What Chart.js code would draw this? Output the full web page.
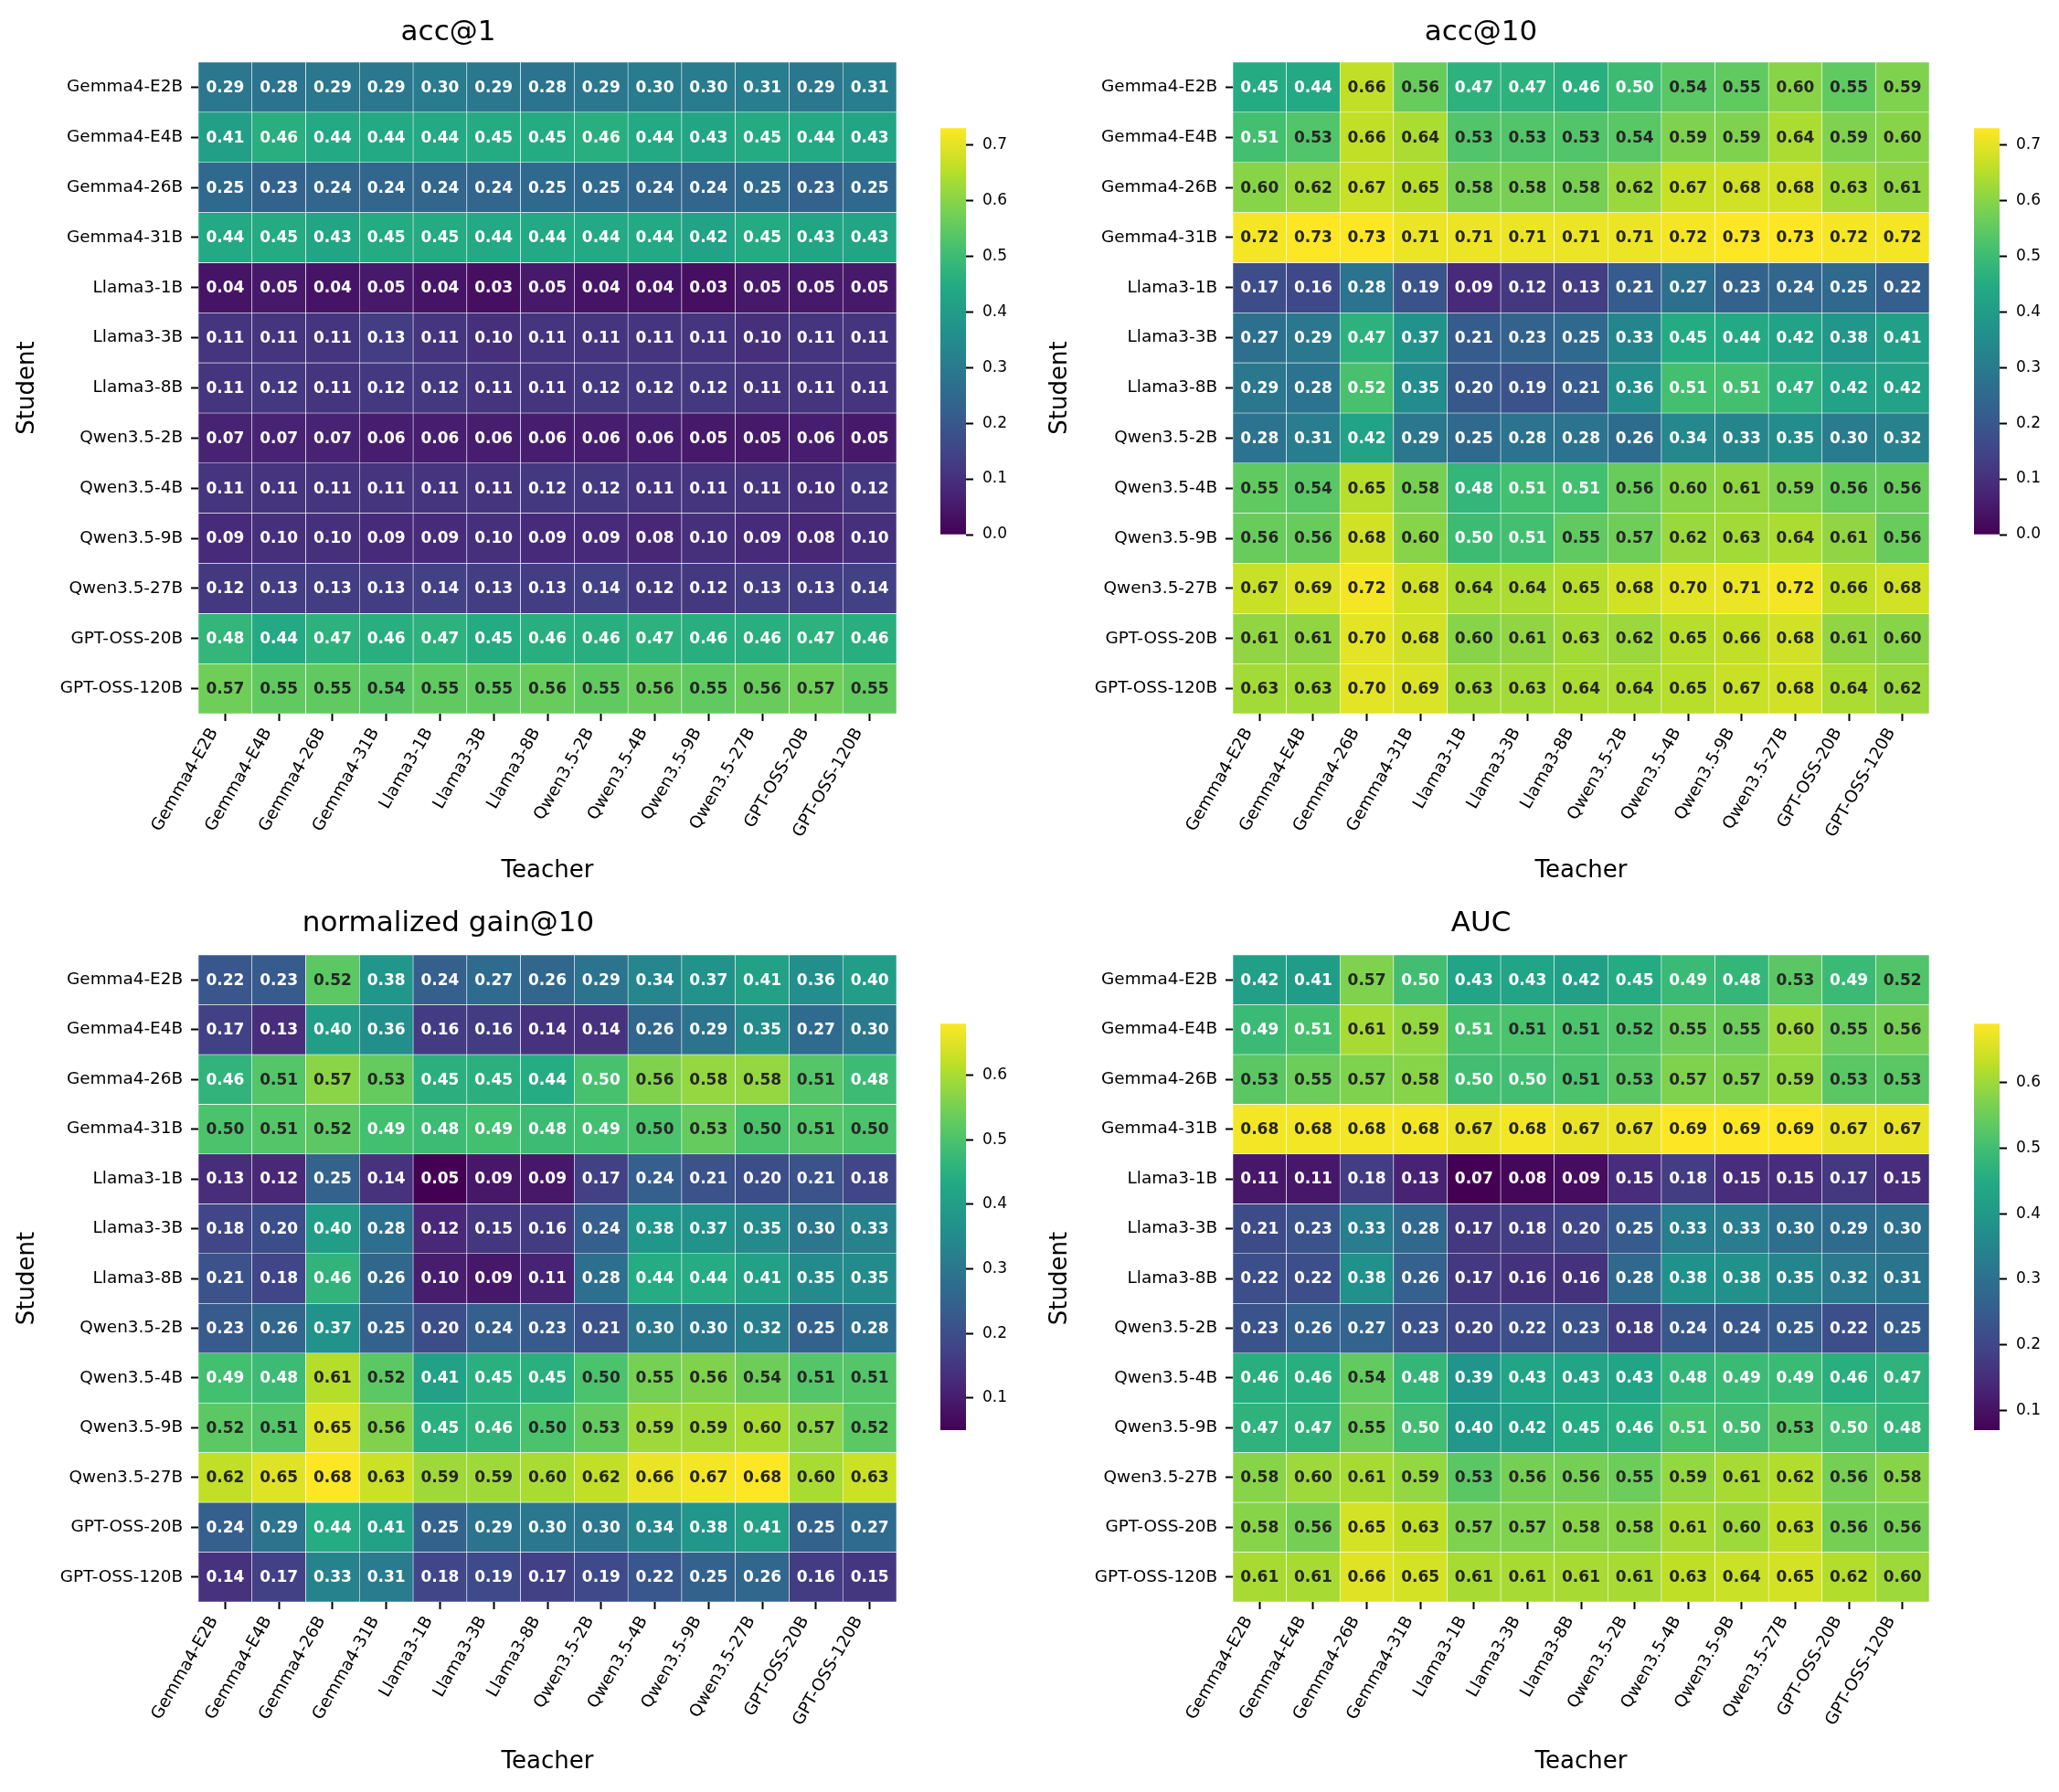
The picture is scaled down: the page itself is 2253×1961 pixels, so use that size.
<!DOCTYPE html>
<html>
<head>
<meta charset="utf-8">
<script src="https://cdn.jsdelivr.net/npm/chart.js@4.4.1/dist/chart.umd.min.js"></script>
<style>
  body { margin: 0; background: #fff; width: 2253px; height: 1961px; position: relative; overflow: hidden; }
  canvas { position: absolute; }
</style>
</head>
<body>
<canvas id="accAt1"></canvas>
<canvas id="accAt10"></canvas>
<canvas id="gainAt10"></canvas>
<canvas id="aucMap"></canvas>
<canvas id="cbar1"></canvas>
<canvas id="cbar2"></canvas>
<canvas id="cbar3"></canvas>
<canvas id="cbar4"></canvas>
<script>
// student (rows) and teacher (columns) models
const students = ['Gemma4-E2B', 'Gemma4-E4B', 'Gemma4-26B', 'Gemma4-31B', 'Llama3-1B', 'Llama3-3B', 'Llama3-8B',
  'Qwen3.5-2B', 'Qwen3.5-4B', 'Qwen3.5-9B', 'Qwen3.5-27B', 'GPT-OSS-20B', 'GPT-OSS-120B'];
const teachers = ['Gemma4-E2B', 'Gemma4-E4B', 'Gemma4-26B', 'Gemma4-31B', 'Llama3-1B', 'Llama3-3B', 'Llama3-8B',
  'Qwen3.5-2B', 'Qwen3.5-4B', 'Qwen3.5-9B', 'Qwen3.5-27B', 'GPT-OSS-20B', 'GPT-OSS-120B'];

const acc1 = [
  [0.29, 0.28, 0.29, 0.29, 0.30, 0.29, 0.28, 0.29, 0.30, 0.30, 0.31, 0.29, 0.31],
  [0.41, 0.46, 0.44, 0.44, 0.44, 0.45, 0.45, 0.46, 0.44, 0.43, 0.45, 0.44, 0.43],
  [0.25, 0.23, 0.24, 0.24, 0.24, 0.24, 0.25, 0.25, 0.24, 0.24, 0.25, 0.23, 0.25],
  [0.44, 0.45, 0.43, 0.45, 0.45, 0.44, 0.44, 0.44, 0.44, 0.42, 0.45, 0.43, 0.43],
  [0.04, 0.05, 0.04, 0.05, 0.04, 0.03, 0.05, 0.04, 0.04, 0.03, 0.05, 0.05, 0.05],
  [0.11, 0.11, 0.11, 0.13, 0.11, 0.10, 0.11, 0.11, 0.11, 0.11, 0.10, 0.11, 0.11],
  [0.11, 0.12, 0.11, 0.12, 0.12, 0.11, 0.11, 0.12, 0.12, 0.12, 0.11, 0.11, 0.11],
  [0.07, 0.07, 0.07, 0.06, 0.06, 0.06, 0.06, 0.06, 0.06, 0.05, 0.05, 0.06, 0.05],
  [0.11, 0.11, 0.11, 0.11, 0.11, 0.11, 0.12, 0.12, 0.11, 0.11, 0.11, 0.10, 0.12],
  [0.09, 0.10, 0.10, 0.09, 0.09, 0.10, 0.09, 0.09, 0.08, 0.10, 0.09, 0.08, 0.10],
  [0.12, 0.13, 0.13, 0.13, 0.14, 0.13, 0.13, 0.14, 0.12, 0.12, 0.13, 0.13, 0.14],
  [0.48, 0.44, 0.47, 0.46, 0.47, 0.45, 0.46, 0.46, 0.47, 0.46, 0.46, 0.47, 0.46],
  [0.57, 0.55, 0.55, 0.54, 0.55, 0.55, 0.56, 0.55, 0.56, 0.55, 0.56, 0.57, 0.55]
];

const acc10 = [
  [0.45, 0.44, 0.66, 0.56, 0.47, 0.47, 0.46, 0.50, 0.54, 0.55, 0.60, 0.55, 0.59],
  [0.51, 0.53, 0.66, 0.64, 0.53, 0.53, 0.53, 0.54, 0.59, 0.59, 0.64, 0.59, 0.60],
  [0.60, 0.62, 0.67, 0.65, 0.58, 0.58, 0.58, 0.62, 0.67, 0.68, 0.68, 0.63, 0.61],
  [0.72, 0.73, 0.73, 0.71, 0.71, 0.71, 0.71, 0.71, 0.72, 0.73, 0.73, 0.72, 0.72],
  [0.17, 0.16, 0.28, 0.19, 0.09, 0.12, 0.13, 0.21, 0.27, 0.23, 0.24, 0.25, 0.22],
  [0.27, 0.29, 0.47, 0.37, 0.21, 0.23, 0.25, 0.33, 0.45, 0.44, 0.42, 0.38, 0.41],
  [0.29, 0.28, 0.516, 0.35, 0.20, 0.19, 0.21, 0.36, 0.51, 0.51, 0.47, 0.42, 0.42],
  [0.28, 0.31, 0.42, 0.29, 0.25, 0.28, 0.28, 0.26, 0.34, 0.33, 0.35, 0.30, 0.32],
  [0.55, 0.54, 0.65, 0.58, 0.48, 0.51, 0.51, 0.56, 0.60, 0.61, 0.59, 0.56, 0.56],
  [0.56, 0.56, 0.68, 0.60, 0.50, 0.51, 0.55, 0.57, 0.62, 0.63, 0.64, 0.61, 0.56],
  [0.67, 0.69, 0.72, 0.68, 0.64, 0.64, 0.65, 0.68, 0.70, 0.71, 0.72, 0.66, 0.68],
  [0.61, 0.61, 0.70, 0.68, 0.60, 0.61, 0.63, 0.62, 0.65, 0.66, 0.68, 0.61, 0.60],
  [0.63, 0.63, 0.70, 0.69, 0.63, 0.63, 0.64, 0.64, 0.65, 0.67, 0.68, 0.64, 0.62]
];

const gain10 = [
  [0.22, 0.23, 0.52, 0.38, 0.24, 0.27, 0.26, 0.29, 0.34, 0.37, 0.41, 0.36, 0.40],
  [0.17, 0.13, 0.40, 0.36, 0.16, 0.16, 0.14, 0.14, 0.26, 0.29, 0.35, 0.27, 0.30],
  [0.46, 0.51, 0.57, 0.53, 0.45, 0.45, 0.44, 0.496, 0.56, 0.58, 0.58, 0.51, 0.48],
  [0.50, 0.51, 0.52, 0.49, 0.48, 0.49, 0.48, 0.49, 0.50, 0.53, 0.50, 0.51, 0.50],
  [0.13, 0.12, 0.25, 0.14, 0.05, 0.09, 0.09, 0.17, 0.24, 0.21, 0.20, 0.21, 0.18],
  [0.18, 0.20, 0.40, 0.28, 0.12, 0.15, 0.16, 0.24, 0.38, 0.37, 0.35, 0.30, 0.33],
  [0.21, 0.18, 0.46, 0.26, 0.10, 0.09, 0.11, 0.28, 0.44, 0.44, 0.41, 0.35, 0.35],
  [0.23, 0.26, 0.37, 0.25, 0.20, 0.24, 0.23, 0.21, 0.30, 0.30, 0.32, 0.25, 0.28],
  [0.49, 0.48, 0.61, 0.52, 0.41, 0.45, 0.45, 0.50, 0.55, 0.56, 0.54, 0.51, 0.51],
  [0.52, 0.51, 0.65, 0.56, 0.45, 0.46, 0.50, 0.53, 0.59, 0.59, 0.60, 0.57, 0.52],
  [0.62, 0.65, 0.68, 0.63, 0.59, 0.59, 0.60, 0.62, 0.66, 0.67, 0.68, 0.60, 0.63],
  [0.24, 0.29, 0.44, 0.41, 0.25, 0.29, 0.30, 0.30, 0.34, 0.38, 0.41, 0.25, 0.27],
  [0.14, 0.17, 0.33, 0.31, 0.18, 0.19, 0.17, 0.19, 0.22, 0.25, 0.26, 0.16, 0.15]
];

const auc = [
  [0.42, 0.41, 0.57, 0.50, 0.43, 0.43, 0.42, 0.45, 0.49, 0.48, 0.53, 0.49, 0.52],
  [0.49, 0.508, 0.61, 0.59, 0.508, 0.512, 0.512, 0.52, 0.55, 0.55, 0.60, 0.55, 0.56],
  [0.53, 0.55, 0.57, 0.58, 0.50, 0.50, 0.512, 0.53, 0.57, 0.57, 0.59, 0.53, 0.53],
  [0.68, 0.68, 0.68, 0.68, 0.67, 0.68, 0.67, 0.67, 0.69, 0.69, 0.69, 0.67, 0.67],
  [0.11, 0.11, 0.18, 0.13, 0.07, 0.08, 0.09, 0.15, 0.18, 0.15, 0.15, 0.17, 0.15],
  [0.21, 0.23, 0.33, 0.28, 0.17, 0.18, 0.20, 0.25, 0.33, 0.33, 0.30, 0.29, 0.30],
  [0.22, 0.22, 0.38, 0.26, 0.17, 0.16, 0.16, 0.28, 0.38, 0.38, 0.35, 0.32, 0.31],
  [0.23, 0.26, 0.27, 0.23, 0.20, 0.22, 0.23, 0.18, 0.24, 0.24, 0.25, 0.22, 0.25],
  [0.46, 0.46, 0.54, 0.48, 0.39, 0.43, 0.43, 0.43, 0.48, 0.49, 0.49, 0.46, 0.47],
  [0.47, 0.47, 0.55, 0.50, 0.40, 0.42, 0.45, 0.46, 0.508, 0.50, 0.53, 0.50, 0.48],
  [0.58, 0.60, 0.61, 0.59, 0.53, 0.56, 0.56, 0.55, 0.59, 0.61, 0.62, 0.56, 0.58],
  [0.58, 0.56, 0.65, 0.63, 0.57, 0.57, 0.58, 0.58, 0.61, 0.60, 0.63, 0.56, 0.56],
  [0.61, 0.61, 0.66, 0.65, 0.61, 0.61, 0.61, 0.61, 0.63, 0.64, 0.65, 0.62, 0.60]
];

// colour scale limits and colorbar ticks
const accRange = [0, 0.73];
const gainRange = [0.05, 0.68];
const aucRange = [0.07, 0.69];
const accTicks = [0, 0.1, 0.2, 0.3, 0.4, 0.5, 0.6, 0.7];
const gainTicks = [0.1, 0.2, 0.3, 0.4, 0.5, 0.6];
const aucTicks = [0.1, 0.2, 0.3, 0.4, 0.5, 0.6];

Chart.defaults.font.family = "'DejaVu Sans', sans-serif";
Chart.defaults.color = '#000';
Chart.defaults.animation = false;

// viridis colormap
const viridisStops = [
  [0, '#440154'], [0.1, '#482475'], [0.125, '#472c7a'], [0.2, '#414487'], [0.25, '#3b518b'],
  [0.3, '#355f8d'], [0.375, '#2c718e'], [0.4, '#2a788e'], [0.5, '#21918c'], [0.6, '#22a884'],
  [0.625, '#27ad81'], [0.7, '#44bf70'], [0.75, '#5ec962'], [0.8, '#7ad151'], [0.875, '#aadc32'],
  [0.9, '#bddf26'], [1, '#fde725']
];
function hexRgb(h) {
  return [parseInt(h.slice(1, 3), 16), parseInt(h.slice(3, 5), 16), parseInt(h.slice(5, 7), 16)];
}
function viridis(t) {
  t = Math.min(1, Math.max(0, t));
  for (let i = 1; i < viridisStops.length; i++) {
    const [t1, c1] = viridisStops[i];
    if (t <= t1) {
      const [t0, c0] = viridisStops[i - 1];
      const f = (t - t0) / (t1 - t0);
      const a = hexRgb(c0), b = hexRgb(c1);
      return a.map((v, k) => Math.round(v + (b[k] - v) * f));
    }
  }
  return hexRgb('#fde725');
}
function luminance(rgb) {
  const lin = rgb.map(v => {
    v /= 255;
    return v <= 0.03928 ? v / 12.92 : Math.pow((v + 0.055) / 1.055, 2.4);
  });
  return 0.2126 * lin[0] + 0.7152 * lin[1] + 0.0722 * lin[2];
}

// writes the value into each cell
function cellText(values, range) {
  return {
    id: 'cellText',
    afterDatasetsDraw(chart) {
      const ctx = chart.ctx;
      ctx.save();
      ctx.font = "bold 17px 'DejaVu Sans'";
      ctx.textAlign = 'center';
      ctx.textBaseline = 'middle';
      students.forEach((s, r) => {
        chart.getDatasetMeta(r).data.forEach((bar, c) => {
          const v = values[r][c];
          const rgb = viridis((v - range[0]) / (range[1] - range[0]));
          ctx.fillStyle = luminance(rgb) > 0.408 ? '#262626' : '#ffffff';
          const p = bar.getProps(['x', 'y', 'base'], true);
          ctx.fillText(v.toFixed(2), p.x, (p.y + p.base) / 2 + 1);
        });
      });
      ctx.restore();
    }
  };
}

function place(canvas, x, y, w, h) {
  canvas.width = w;
  canvas.height = h;
  canvas.style.left = x + 'px';
  canvas.style.top = y + 'px';
}

function heatmap(id, title, values, range, box) {
  const canvas = document.getElementById(id);
  place(canvas, box.x, box.y, box.w, box.h);
  const datasets = students.map((s, r) => ({
    label: s,
    data: teachers.map(() => 1),
    backgroundColor: values[r].map(v => 'rgb(' + viridis((v - range[0]) / (range[1] - range[0])).join(',') + ')'),
    borderColor: '#ffffff',
    borderWidth: 0.6,
    borderSkipped: false,
    barPercentage: 1,
    categoryPercentage: 1
  }));
  new Chart(canvas, {
    type: 'bar',
    data: { labels: teachers, datasets },
    options: {
      responsive: false,
      layout: { padding: { left: 0, right: box.right, top: 0, bottom: 0 } },
      plugins: {
        legend: { display: false },
        tooltip: { enabled: false },
        title: {
          display: true, text: title, color: '#000',
          font: { size: 31, weight: 'normal' },
          padding: { top: box.titleTop, bottom: box.titleBottom }
        }
      },
      scales: {
        x: {
          stacked: true,
          grid: { offset: false, drawOnChartArea: false, color: '#000', tickLength: 8, tickWidth: 2 },
          border: { display: false },
          ticks: { autoSkip: false, minRotation: 60, maxRotation: 60, padding: 4, labelOffset: -12,
                   font: { size: 18.4 } },
          title: { display: true, text: 'Teacher', font: { size: 26 }, padding: { top: 0, bottom: box.teacherPad } },
          afterFit: s => { s.height = box.xh; }
        },
        y: {
          stacked: true, min: 0, max: students.length, reverse: true,
          afterBuildTicks: s => { s.ticks = students.map((n, i) => ({ value: i + 0.5 })); },
          ticks: { autoSkip: false, padding: 9, callback: (v, i) => students[i],
                   font: { size: 18.4 } },
          grid: { drawOnChartArea: false, color: '#000', tickLength: 8, tickWidth: 2 },
          border: { display: false },
          title: { display: true, text: 'Student', font: { size: 26 }, padding: { top: 14.5, bottom: 0 } },
          afterFit: s => { s.width = box.yw; }
        }
      }
    },
    plugins: [cellText(values, range)]
  });
}

function colorbar(id, range, ticks, box) {
  const canvas = document.getElementById(id);
  place(canvas, box.x, box.y, box.w, box.h);
  new Chart(canvas, {
    type: 'bar',
    data: {
      labels: [''],
      datasets: [{
        data: [range],
        borderWidth: 0,
        barPercentage: 1,
        categoryPercentage: 1,
        backgroundColor: c => {
          const a = c.chart.chartArea;
          if (!a) return '#440154';
          const g = c.chart.ctx.createLinearGradient(0, a.bottom, 0, a.top);
          viridisStops.forEach(([t, col]) => g.addColorStop(t, col));
          return g;
        }
      }]
    },
    options: {
      responsive: false,
      layout: { padding: { left: 9, right: 0, top: box.top, bottom: box.bottom } },
      plugins: { legend: { display: false }, tooltip: { enabled: false } },
      scales: {
        x: { display: false },
        y: {
          position: 'right', min: range[0], max: range[1],
          afterBuildTicks: s => { s.ticks = ticks.map(v => ({ value: v })); },
          ticks: { padding: 10, callback: v => v.toFixed(1), font: { size: 17 } },
          grid: { drawOnChartArea: false, color: '#000', tickLength: 8, tickWidth: 2 },
          border: { display: false },
          afterFit: s => { s.width = box.w - 9 - 28; }
        }
      }
    }
  });
}

const topBox = { y: 0, h: 980, titleTop: 17.4, titleBottom: 13.4, xh: 199, teacherPad: 11 };
const botBox = { y: 980, h: 981, titleTop: 12.4, titleBottom: 15.4, xh: 208, teacherPad: 17 };

heatmap('accAt1', 'acc@1', acc1, accRange, Object.assign({ x: 0, w: 1000, yw: 217, right: 19 }, topBox));
heatmap('accAt10', 'acc@10', acc10, accRange, Object.assign({ x: 1130, w: 1000, yw: 219, right: 19 }, topBox));
heatmap('gainAt10', 'normalized gain@10', gain10, gainRange, Object.assign({ x: 0, w: 1000, yw: 217, right: 19 }, botBox));
heatmap('aucMap', 'AUC', auc, aucRange, Object.assign({ x: 1130, w: 1000, yw: 219, right: 19 }, botBox));

colorbar('cbar1', accRange, accTicks, { x: 1020, y: 120, w: 110, h: 490, top: 17, bottom: 25 });
colorbar('cbar2', accRange, accTicks, { x: 2151, y: 120, w: 102, h: 490, top: 17, bottom: 25 });
colorbar('cbar3', gainRange, gainTicks, { x: 1020, y: 1100, w: 110, h: 490, top: 18, bottom: 25 });
colorbar('cbar4', aucRange, aucTicks, { x: 2151, y: 1100, w: 102, h: 490, top: 18, bottom: 25 });
</script>
</body>
</html>
